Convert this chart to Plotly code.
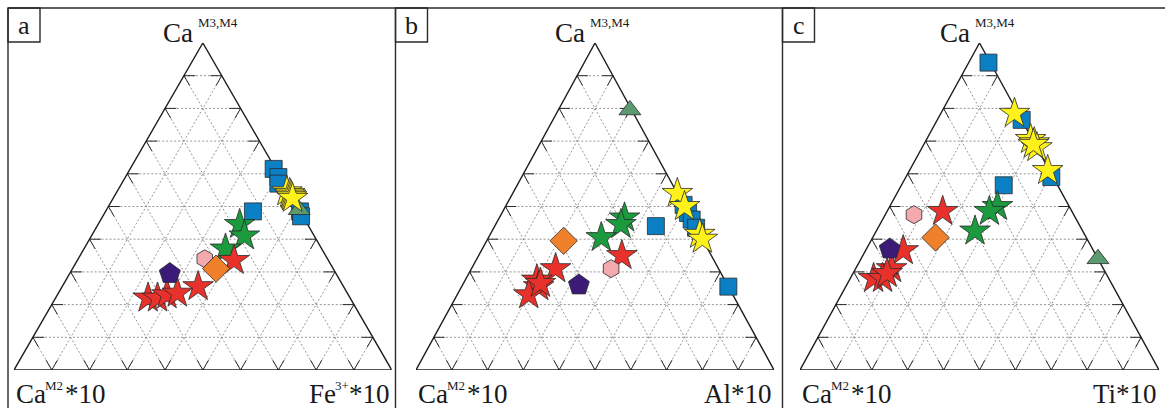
import plotly.graph_objects as go

FIG_W, FIG_H = 1165, 408

# Ternary compositions, each point as (Ca M3,M4, Ca M2*10, X*10) in percent
A_SQUARE = [(61.5, 0.5, 38), (59, 0.5, 40.5), (57, 1.5, 41.5), (48.5, 0, 51.5), (47, 0.5, 52.5), (48.5, 12.5, 39)]
A_GTRI = [(49, 0, 51)]
A_YSTAR = [(54.5, 0.5, 45), (54, 0, 46), (53.5, 0, 46.5), (53, 0, 47), (52.5, 0, 47.5)]
A_GSTAR = [(44.5, 18, 37.5), (41, 18.5, 40.5), (37, 25.5, 37.5)]
A_RSTAR = [(33.5, 25, 41.5), (25.5, 38.5, 36), (22, 53.5, 24.5), (22, 51, 27), (23, 48, 29), (23.5, 45, 31.5)]
A_HEX = [(34, 32.5, 33.5)]
A_DIAM = [(31, 31, 38)]
A_PENT = [(29.5, 44, 26.5)]

B_SQUARE = [(50.5, 0, 49.5), (48, 0, 52), (46, 0, 54), (43.5, 0, 56.5), (44, 11, 45), (25.5, 0, 74.5)]
B_GTRI = [(79.5, 0.5, 20)]
B_YSTAR = [(54, 0, 46), (50, 0, 50), (41.5, 0, 58.5), (40, 0, 60)]
B_GSTAR = [(46.5, 18.5, 35), (44.5, 20.5, 35), (40.5, 28, 31.5)]
B_RSTAR = [(35, 25, 40), (31, 45.5, 23.5), (27.5, 52.5, 20), (25.5, 53, 21.5), (23, 57, 20), (26.5, 52, 21.5)]
B_HEX = [(31, 30, 39)]
B_DIAM = [(39.5, 39, 21.5)]
B_PENT = [(26, 41.5, 32.5)]

C_SQUARE = [(94, 0.5, 5.5), (76.5, 0, 23.5), (59, 0.5, 40.5), (56.5, 15, 28.5)]
C_GTRI = [(34, 0, 66)]
C_YSTAR = [(78.5, 1, 20.5), (70.5, 0.5, 29), (69.5, 0, 30.5), (68, 0, 32), (69, 0.5, 30.5), (61, 0.5, 38.5)]
C_GSTAR = [(50, 20, 30), (48.5, 23, 28.5), (42.5, 30, 27.5)]
C_RSTAR = [(48.5, 36, 15.5), (36.5, 53, 10.5), (31, 59, 10), (28, 65.5, 6.5), (28, 63, 9), (29.5, 61, 9.5)]
C_HEX = [(47.5, 44.5, 8)]
C_DIAM = [(40.5, 42, 17.5)]
C_PENT = [(37, 56.5, 6.5)]

PANEL_LETTERS = ["a", "b", "c"]
RIGHT_VERTEX = ["Fe", "Al", "Ti"]
GRID_STEPS = [10, 20, 30, 40, 50, 60, 70, 80, 90]

PANEL_DATA = [
    [A_SQUARE, A_GTRI, A_YSTAR, A_GSTAR, A_RSTAR, A_HEX, A_DIAM, A_PENT],
    [B_SQUARE, B_GTRI, B_YSTAR, B_GSTAR, B_RSTAR, B_HEX, B_DIAM, B_PENT],
    [C_SQUARE, C_GTRI, C_YSTAR, C_GSTAR, C_RSTAR, C_HEX, C_DIAM, C_PENT],
]

# marker styles, same order as the series lists above
STYLES = [
    dict(symbol="square", size=17, color="#0b7fc3"),
    dict(symbol="triangle-up", size=19, color="#5b9a6f"),
    dict(symbol="star", size=23, color="#fff21a"),
    dict(symbol="star", size=23, color="#1b9a3e"),
    dict(symbol="star", size=23, color="#e8312b"),
    dict(symbol="hexagon", size=18, color="#f4a9ae"),
    dict(symbol="diamond", size=21, color="#f0812a"),
    dict(symbol="pentagon", size=22, color="#3b1a78"),
]

# pixel frame of each triangle: left corner x, right corner x, base y, apex y
TRI_PX = [(14, 391.7), (416, 774), (800, 1159)]
BASE_Y, APEX_Y = 370, 43
# panel frame x positions (px)
FRAME_X = [8, 395.5, 782.5]


def to_xy(points):
    xs, ys = [], []
    for top, left, right in points:
        s = top + left + right
        a, r = top / s, right / s
        xs.append(r + a / 2)
        ys.append(a)
    return xs, ys


def tern(a, l, r):
    return r + a / 2, a


def px_x(x):
    return x / FIG_W


def px_y(y):
    return 1 - y / FIG_H


fig = go.Figure()
tick = 0.03

for p in range(3):
    xa = "x" if p == 0 else f"x{p + 1}"
    ya = "y" if p == 0 else f"y{p + 1}"

    # dotted grid
    gx, gy = [], []
    for step in GRID_STEPS:
        f = step / 100
        for (a0, l0, r0), (a1, l1, r1) in [
            ((f, 1 - f, 0), (f, 0, 1 - f)),
            ((0, 1 - f, f), (1 - f, 0, f)),
            ((0, f, 1 - f), (1 - f, f, 0)),
        ]:
            x0, y0 = tern(a0, l0, r0)
            x1, y1 = tern(a1, l1, r1)
            gx += [x0, x1, None]
            gy += [y0, y1, None]
    fig.add_trace(go.Scatter(x=gx, y=gy, mode="lines", xaxis=xa, yaxis=ya,
                             line=dict(color="#8a8a8a", width=0.9, dash="2px,2px"),
                             hoverinfo="skip", showlegend=False))

    # short solid ticks running inward along the grid lines from each edge
    tx, ty = [], []
    for step in GRID_STEPS:
        f = step / 100
        segs = [
            # base (top component = 0)
            ((0, 1 - f, f), (tick, 1 - f - tick, f)),
            ((0, 1 - f, f), (tick, 1 - f, f - tick)),
            # left edge (right component = 0)
            ((f, 1 - f, 0), (f, 1 - f - tick, tick)),
            ((f, 1 - f, 0), (f - tick, 1 - f, tick)),
            # right edge (left component = 0)
            ((f, 0, 1 - f), (f, tick, 1 - f - tick)),
            ((f, 0, 1 - f), (f - tick, tick, 1 - f)),
        ]
        for s0, s1 in segs:
            x0, y0 = tern(*s0)
            x1, y1 = tern(*s1)
            tx += [x0, x1, None]
            ty += [y0, y1, None]
    fig.add_trace(go.Scatter(x=tx, y=ty, mode="lines", xaxis=xa, yaxis=ya,
                             line=dict(color="#2a2a2a", width=1),
                             hoverinfo="skip", showlegend=False))

    # triangle outline
    fig.add_trace(go.Scatter(x=[0, 1, 0.5, 0], y=[0, 0, 1, 0], mode="lines",
                             xaxis=xa, yaxis=ya, line=dict(color="#1e1e1e", width=1.4),
                             hoverinfo="skip", showlegend=False, cliponaxis=False))

    for series, st in zip(PANEL_DATA[p], STYLES):
        xs, ys = to_xy(series)
        fig.add_trace(go.Scatter(
            x=xs, y=ys, mode="markers", xaxis=xa, yaxis=ya, cliponaxis=False,
            marker=dict(symbol=st["symbol"], size=st["size"], color=st["color"],
                        line=dict(color="#2b2b2b", width=0.8)),
            showlegend=False))

    left, right = TRI_PX[p]
    dom_x = [px_x(left), px_x(right)]
    dom_y = [px_y(BASE_Y), px_y(APEX_Y)]
    sfx = "" if p == 0 else str(p + 1)
    fig.layout[f"xaxis{sfx}"] = dict(domain=dom_x, range=[0, 1], visible=False, fixedrange=True)
    fig.layout[f"yaxis{sfx}"] = dict(domain=dom_y, range=[0, 1], visible=False, fixedrange=True,
                                     anchor=xa)

# panel frames and letter boxes
line_col = "#2a2a2a"
shapes = [dict(type="line", xref="paper", yref="paper", x0=px_x(FRAME_X[0]), x1=1,
               y0=px_y(8), y1=px_y(8), line=dict(color=line_col, width=1.4))]
for fx in FRAME_X:
    shapes.append(dict(type="line", xref="paper", yref="paper", x0=px_x(fx), x1=px_x(fx),
                       y0=px_y(8), y1=0, line=dict(color=line_col, width=1.4)))
    shapes.append(dict(type="rect", xref="paper", yref="paper", x0=px_x(fx), x1=px_x(fx + 32),
                       y0=px_y(42), y1=px_y(8), line=dict(color=line_col, width=1.4)))
fig.update_layout(shapes=shapes)

serif = "Liberation Serif, Times New Roman, serif"
BIG, SMALL = 27, 13
ann = []


def text(x, y, s, size, xanchor):
    ann.append(dict(x=px_x(x), y=px_y(y), xref="paper", yref="paper", text=s,
                    showarrow=False, xanchor=xanchor, yanchor="middle",
                    font=dict(family=serif, size=size, color="#1a1a1a")))


for p in range(3):
    left, right = TRI_PX[p]
    apex = (left + right) / 2
    text(FRAME_X[p] + 16, 25, PANEL_LETTERS[p], 26, "center")
    # top vertex
    text(apex - 8, 33, "Ca", BIG, "right")
    text(apex - 7, 22, "M3,M4", SMALL, "left")
    # left vertex
    text(left, 394, "Ca", BIG, "left")
    text(left + 29, 385, "M2", SMALL, "left")
    text(left + 49, 394, "*10", BIG, "left")
    # right vertex
    if RIGHT_VERTEX[p] == "Fe":
        text(right, 394, "*10", BIG, "right")
        text(right - 41, 385, "3+", SMALL, "right")
        text(right - 54, 394, "Fe", BIG, "right")
    else:
        text(right, 394, RIGHT_VERTEX[p] + "*10", BIG, "right")

fig.update_layout(annotations=ann, width=FIG_W, height=FIG_H,
                  margin=dict(l=0, r=0, t=0, b=0), paper_bgcolor="white",
                  plot_bgcolor="white", showlegend=False)

fig.write_html("out.html")
